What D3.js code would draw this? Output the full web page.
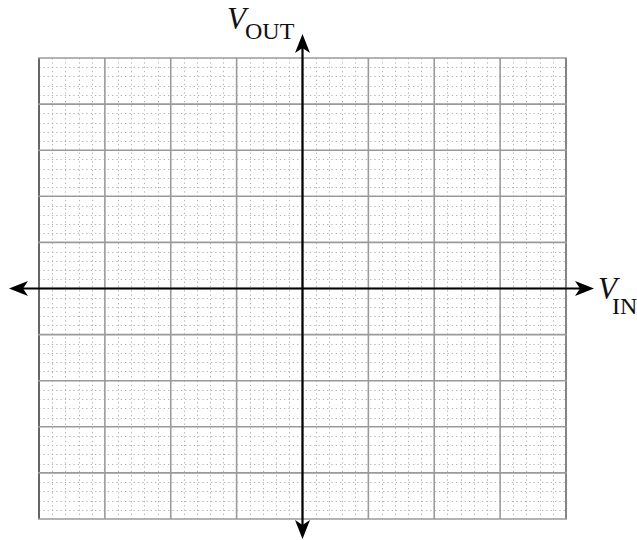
<!DOCTYPE html>
<html>
<head>
<meta charset="utf-8">
<script src="https://cdn.jsdelivr.net/npm/d3@7"></script>
<style>
  html, body { margin: 0; padding: 0; background: #fff; }
  svg { display: block; }
</style>
</head>
<body>
<svg id="chart" width="637" height="540"></svg>
<script>
// ---- data ----
const xMajorTicks = [-4, -3, -2, -1, 0, 1, 2, 3, 4];
const yMajorTicks = [-5, -4, -3, -2, -1, 0, 1, 2, 3, 4, 5];
const minorPerMajor = 5;
const xAxisLabel = { main: "V", sub: "IN" };
const yAxisLabel = { main: "V", sub: "OUT" };

// ---- layout ----
const svg = d3.select("#chart");
const x = d3.scaleLinear().domain([-4, 4]).range([39, 566]);
const y = d3.scaleLinear().domain([-5, 5]).range([519, 58]);

function minorTicks(major) {
  const out = [];
  for (let i = 0; i < major.length - 1; i++) {
    for (let k = 1; k < minorPerMajor; k++) {
      out.push(major[i] + (major[i + 1] - major[i]) * k / minorPerMajor);
    }
  }
  return out;
}
const xMinor = minorTicks(xMajorTicks);
const yMinor = minorTicks(yMajorTicks);

const g = svg.append("g");

// minor dotted grid
g.selectAll("line.vminor").data(xMinor).join("line")
  .attr("x1", d => Math.round(x(d)) + 0.5).attr("x2", d => Math.round(x(d)) + 0.5)
  .attr("y1", y(5)).attr("y2", y(-5))
  .attr("stroke", "#b4b4b4").attr("stroke-width", 1)
  .attr("stroke-dasharray", "1.3,3");
g.selectAll("line.hminor").data(yMinor).join("line")
  .attr("y1", d => Math.round(y(d)) + 0.5).attr("y2", d => Math.round(y(d)) + 0.5)
  .attr("x1", x(-4)).attr("x2", x(4))
  .attr("stroke", "#b4b4b4").attr("stroke-width", 1)
  .attr("stroke-dasharray", "1.3,3");

// major grid
g.selectAll("line.vmajor").data(xMajorTicks).join("line")
  .attr("x1", d => x(d)).attr("x2", d => x(d))
  .attr("y1", y(5)).attr("y2", y(-5))
  .attr("stroke", d => (d === -4 || d === 4) ? "#666" : "#9a9a9a")
  .attr("stroke-width", d => (d === -4) ? 2 : 1.6);
g.selectAll("line.hmajor").data(yMajorTicks).join("line")
  .attr("y1", d => y(d)).attr("y2", d => y(d))
  .attr("x1", x(-4) - 1).attr("x2", x(4) + 1)
  .attr("stroke", "#9a9a9a").attr("stroke-width", 1.6);

// axes with arrowheads
const arrowLen = 19, arrowHalf = 7.5, notch = 5;
function arrowHead(tx, ty, angle) {
  const p = [[0, 0], [-arrowLen, -arrowHalf], [-arrowLen + notch, 0], [-arrowLen, arrowHalf]];
  const c = Math.cos(angle), s = Math.sin(angle);
  const pts = p.map(([a, b]) => [tx + a * c - b * s, ty + a * s + b * c]);
  svg.append("path").attr("d", d3.line()(pts) + "Z").attr("fill", "#000");
}
const x0 = x(0), y0 = y(0);
const leftTip = 9, rightTip = 594, topTip = 34, bottomTip = 539;
svg.append("line").attr("x1", leftTip + 10).attr("x2", rightTip - 10)
  .attr("y1", y0).attr("y2", y0).attr("stroke", "#000").attr("stroke-width", 2.2);
svg.append("line").attr("y1", topTip + 10).attr("y2", bottomTip - 10)
  .attr("x1", x0).attr("x2", x0).attr("stroke", "#000").attr("stroke-width", 2.2);
arrowHead(rightTip, y0, 0);
arrowHead(leftTip, y0, Math.PI);
arrowHead(x0, topTip, -Math.PI / 2);
arrowHead(x0, bottomTip, Math.PI / 2);

// labels
function label(lbl, vx, vy, sx, sy) {
  svg.append("text").attr("x", vx).attr("y", vy)
    .attr("font-family", "Liberation Serif, Times New Roman, serif")
    .attr("font-style", "italic").attr("font-size", 31).attr("fill", "#111")
    .text(lbl.main);
  svg.append("text").attr("x", sx).attr("y", sy)
    .attr("font-family", "Liberation Serif, Times New Roman, serif")
    .attr("font-size", 24).attr("fill", "#111")
    .text(lbl.sub);
}
label(yAxisLabel, 227, 29, 245, 39);
label(xAxisLabel, 598, 299, 612, 314);
</script>
</body>
</html>
